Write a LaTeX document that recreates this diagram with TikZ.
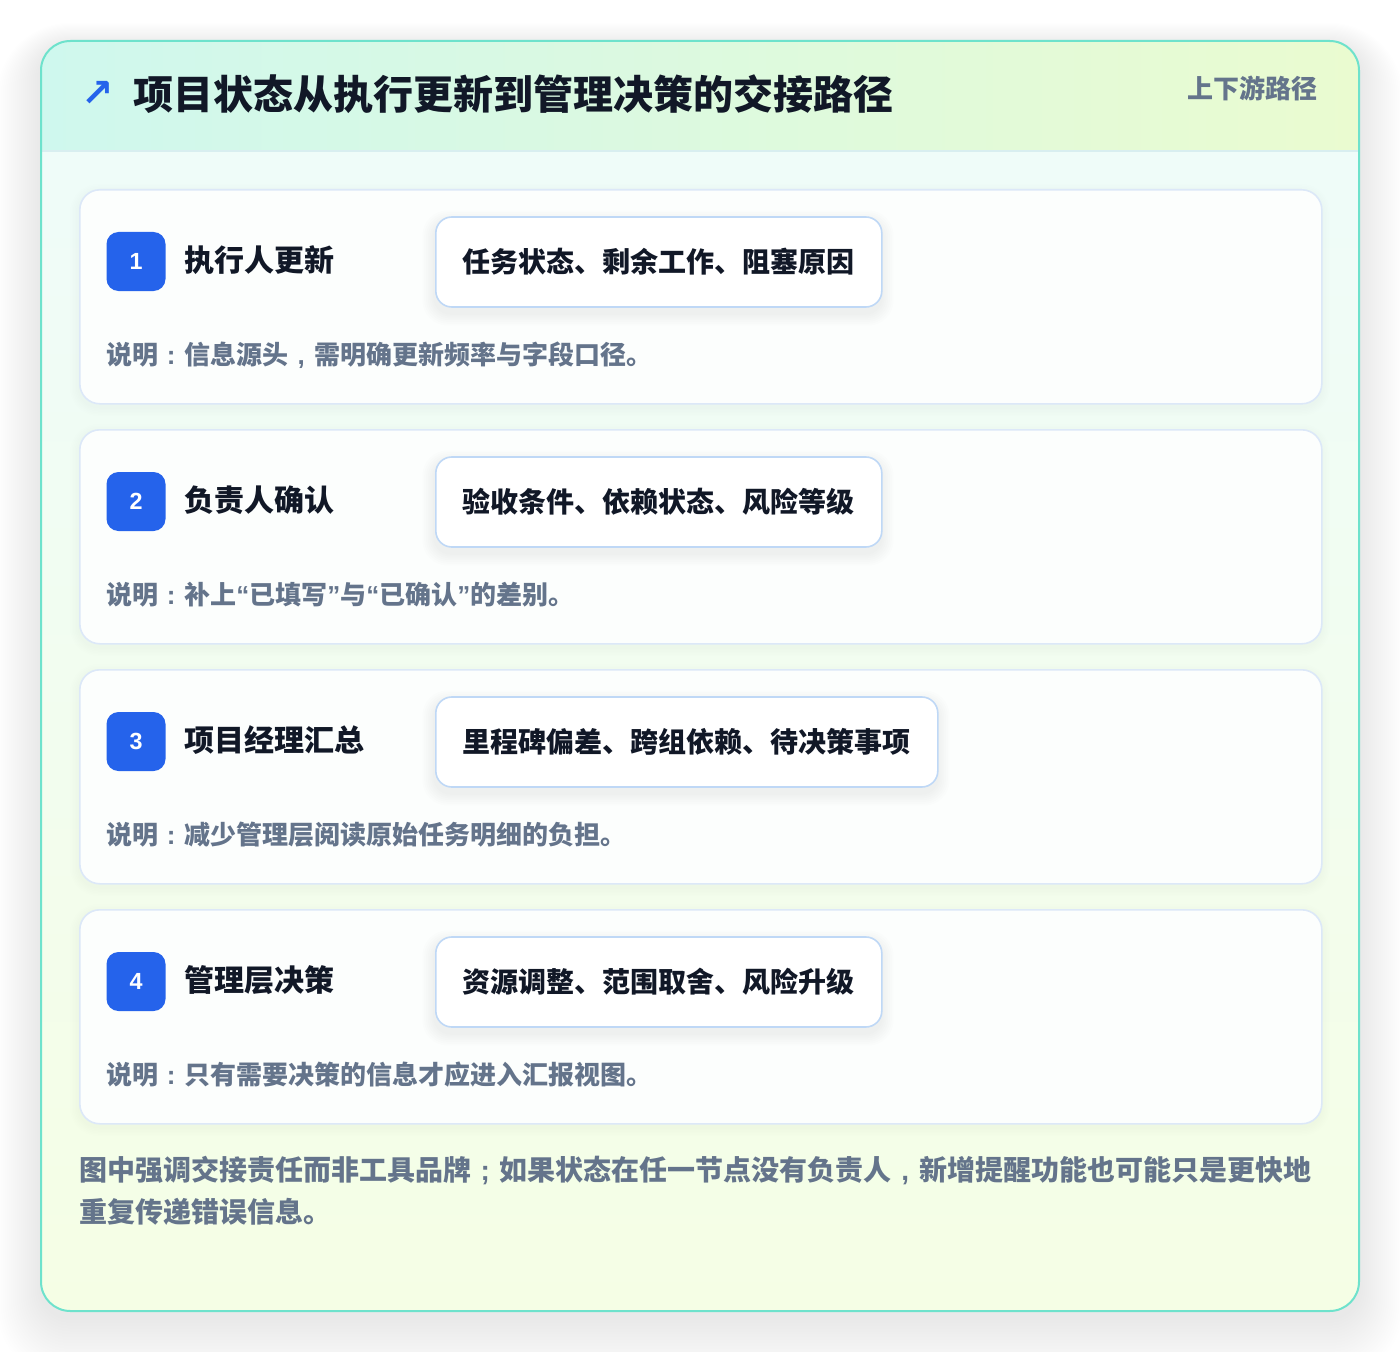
\documentclass[tikz,border=0pt]{standalone}
\usepackage{fontspec}
\newfontfamily\cjk{Noto Sans CJK SC}
\newfontfamily\sym{DejaVu Sans}
\newfontfamily\lat{Liberation Sans}
\definecolor{outline}{HTML}{6EE2CC}
\definecolor{hdrL}{HTML}{CFF8EE}
\definecolor{hdrR}{HTML}{EAFBD0}
\definecolor{bodyT}{HTML}{EFFCF9}
\definecolor{bodyB}{HTML}{F5FEE5}
\definecolor{hdrline}{HTML}{D8EEF0}
\definecolor{cardline}{HTML}{DCE8F8}
\definecolor{cardfill}{HTML}{FCFEFD}
\definecolor{pillline}{HTML}{BFD8F6}
\definecolor{badge}{HTML}{2563EB}
\definecolor{ink}{HTML}{111827}
\definecolor{muted}{HTML}{64748B}
\newcommand\zc{\makebox[1em][c]{\lat :}}
\newcommand\zm{\makebox[1em][c]{\lat ,}}
\newcommand\zs{\makebox[1em][c]{\lat ;}}
\newcommand\ql{{\lat “}}
\newcommand\qr{{\lat ”}}
\tikzset{
  cardbox/.style={draw=cardline, line width=1.2pt, fill=cardfill,
    rounded corners=15pt, minimum width=931.5pt, minimum height=160.5pt, inner sep=0pt, anchor=north west},
  badgebox/.style={fill=badge, rounded corners=9pt, minimum width=44.25pt, minimum height=44.25pt, inner sep=0pt,
    text=white, font=\lat\bfseries\fontsize{17.5}{18}\selectfont, anchor=center},
  steptitle/.style={anchor=west, inner sep=0pt, text=ink, font=\cjk\bfseries\fontsize{22.5}{24}\selectfont},
  pillbox/.style={draw=pillline, line width=1.2pt, fill=white, rounded corners=12pt, minimum height=67.5pt,
    inner xsep=20.25pt, inner ysep=0pt, anchor=west, text=ink, font=\cjk\bfseries\fontsize{21}{22}\selectfont},
  desc/.style={anchor=west, inner sep=0pt, text=muted, font=\cjk\bfseries\fontsize{19.5}{22}\selectfont},
}
\begin{document}
\begin{tikzpicture}[x=0.75pt,y=-0.75pt]
\useasboundingbox (0,0) rectangle (1400,1352);
\fill[white] (0,0) rectangle (1400,1352);
% outer soft shadow
\foreach \k in {1,...,22}{
  \fill[black, opacity=0.004, rounded corners=22pt+1.5*\k pt]
    (41-2*\k,41-2*\k+0.9*\k+6) rectangle (1359+2*\k,1311+2*\k+0.9*\k+6);
}
\fill[white, rounded corners=22pt] (41,41) rectangle (1359,1311);
\begin{scope}
  \clip[rounded corners=22pt] (41,41) rectangle (1359,1311);
  \shade[left color=hdrL, right color=hdrR] (41,41) rectangle (1359,151);
  \shade[top color=bodyT, bottom color=bodyB] (41,151) rectangle (1359,1311);
\end{scope}
\draw[hdrline, line width=1.2pt] (41,151) -- (1359,151);
\draw[outline, line width=1.5pt, rounded corners=22pt] (41,41) rectangle (1359,1311);
% header
\node[anchor=west, inner sep=0pt, text=badge, font=\sym\bfseries\fontsize{29}{30}\selectfont] (arrow) at (81,94) {↗};
\node[anchor=west, inner sep=0pt, text=ink, font=\cjk\bfseries\fontsize{30}{32}\selectfont] (title) at (133,94) {项目状态从执行更新到管理决策的交接路径};
\node[anchor=east, inner sep=0pt, text=muted, font=\cjk\bfseries\fontsize{19.5}{22}\selectfont] (tag) at (1318,88) {上下游路径};
% cards
\foreach \i/\t/\p/\d/\pw in {
  1/执行人更新/任务状态、剩余工作、阻塞原因/说明\zc 信息源头\zm 需明确更新频率与字段口径。/446,
  2/负责人确认/验收条件、依赖状态、风险等级/说明\zc 补上\ql 已填写\qr 与\ql 已确认\qr 的差别。/446,
  3/项目经理汇总/里程碑偏差、跨组依赖、待决策事项/说明\zc 减少管理层阅读原始任务明细的负担。/502,
  4/管理层决策/资源调整、范围取舍、风险升级/说明\zc 只有需要决策的信息才应进入汇报视图。/446}{
  \pgfmathsetmacro{\top}{189+240*(\i-1)}
  % card shadow
  \foreach \k in {1,...,6}{
    \fill[black, opacity=0.005, rounded corners=15pt+\k pt]
      (79-1.5*\k,\top-1.5*\k+4) rectangle (1321+1.5*\k,\top+214+1.5*\k+4);
  }
  \node[cardbox] (c\i) at (79,\top) {};
  \foreach \k in {1,...,7}{
    \fill[black, opacity=0.008, rounded corners=12pt+\k pt]
      (435-1.8*\k,\top+28-1.8*\k+6) rectangle (435+\pw+1.8*\k,\top+118+1.8*\k+6);
  }
  \node[badgebox] (b\i) at (136,\top+72.5) {\i};
  \node[steptitle] (t\i) at (184,\top+71) {\t};
  \node[pillbox] (p\i) at (435,\top+73) {\p};
  \node[desc] (d\i) at (106,\top+166) {\d};
}
% footer
\node[anchor=north west, inner sep=0pt, align=left, text=muted, font=\cjk\bfseries\fontsize{21}{31.5}\selectfont] (foot) at (79,1156)
  {图中强调交接责任而非工具品牌\zs 如果状态在任一节点没有负责人\zm 新增提醒功能也可能只是更快地\\重复传递错误信息。};
\end{tikzpicture}
\end{document}
